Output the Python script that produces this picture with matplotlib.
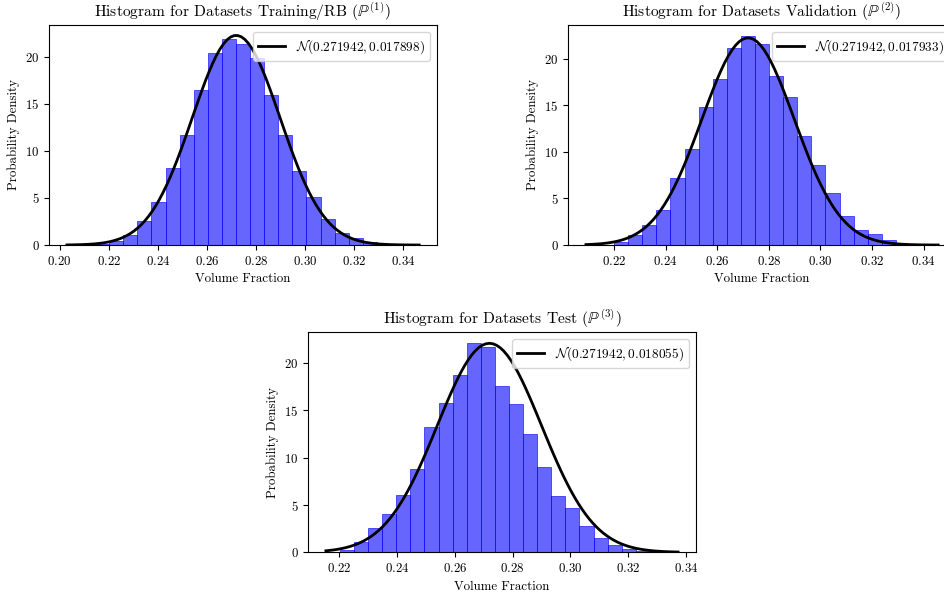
import numpy as np
import matplotlib.pyplot as plt

plt.rcParams['font.family'] = 'serif'
plt.rcParams['font.serif'] = ['cmr10']
plt.rcParams['mathtext.fontset'] = 'cm'
plt.rcParams['axes.unicode_minus'] = False
plt.rcParams['axes.formatter.use_mathtext'] = True
plt.rcParams['font.size'] = 9.3

# data range (min, max) of each dataset, 25 bins each
range_train = (0.2030, 0.3465)
range_val = (0.2091, 0.3456)
range_test = (0.2153, 0.3373)

# density per bin
dens_train = [0.0, 0.02, 0.12, 0.46, 1.06, 2.55, 4.57, 8.2, 11.7, 16.5, 20.4, 21.9, 21.4,
              19.9, 16.0, 11.7, 7.9, 5.1, 2.77, 1.28, 0.71, 0.28, 0.1, 0.03, 0.01]
dens_val = [0.01, 0.05, 0.32, 1.08, 2.15, 3.77, 7.2, 10.3, 14.8, 17.8, 21.2, 22.5, 21.6,
            18.2, 15.9, 11.7, 8.6, 5.6, 3.12, 1.6, 1.18, 0.5, 0.1, 0.05, 0.02]
dens_test = [0.05, 0.25, 1.08, 2.58, 4.05, 6.07, 8.8, 13.2, 15.8, 18.7, 22.15, 21.75, 17.6,
             15.7, 12.5, 9.0, 5.96, 4.68, 2.8, 1.52, 0.78, 0.39, 0.15, 0.05, 0.02]

# fitted normal parameters (from legend)
mu_train, sd_train = 0.271942, 0.017898
mu_val, sd_val = 0.271942, 0.017933
mu_test, sd_test = 0.271942, 0.018055

titles = [r'Histogram for Datasets Training/RB ($\mathbb{P}^{(1)}$)',
          r'Histogram for Datasets Validation ($\mathbb{P}^{(2)}$)',
          r'Histogram for Datasets Test ($\mathbb{P}^{(3)}$)']

fig = plt.figure(figsize=(9.45, 5.93), dpi=100)
ax1 = fig.add_axes([0.0522, 0.5868, 0.41, 0.371])
ax2 = fig.add_axes([0.6014, 0.5868, 0.41, 0.371])
ax3 = fig.add_axes([0.3262, 0.0686, 0.41, 0.371])


def draw(ax, rng, dens, mu, sd, title):
    edges = np.linspace(rng[0], rng[1], len(dens) + 1)
    ax.bar(edges[:-1], dens, width=np.diff(edges), align='edge',
           color='b', edgecolor='b', linewidth=0.7, alpha=0.6)
    x = np.linspace(rng[0], rng[1], 100)
    pdf = np.exp(-0.5 * ((x - mu) / sd) ** 2) / (sd * np.sqrt(2 * np.pi))
    ax.plot(x, pdf, 'k', lw=2, label=r'$\mathcal{N}(%.6f, %.6f)$' % (mu, sd))
    ax.set_title(title, fontsize=11.2)
    ax.set_xlabel('Volume Fraction')
    ax.set_ylabel('Probability Density')
    ax.set_yticks([0, 5, 10, 15, 20])
    ax.legend(loc='upper right', fontsize=9.6)


draw(ax1, range_train, dens_train, mu_train, sd_train, titles[0])
draw(ax2, range_val, dens_val, mu_val, sd_val, titles[1])
draw(ax3, range_test, dens_test, mu_test, sd_test, titles[2])

fig.savefig('out.png', dpi=100)
